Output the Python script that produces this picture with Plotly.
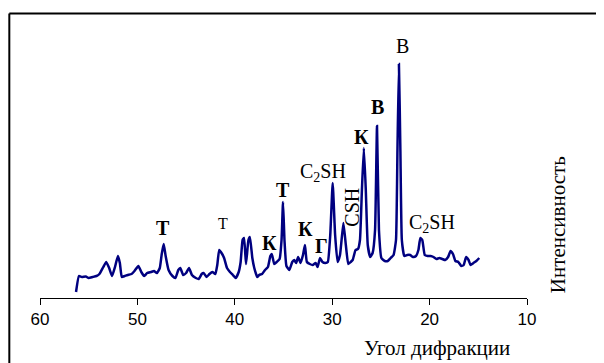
import plotly.graph_objects as go

# Diffraction angle (degrees) and intensity (arbitrary units)
angle = [56.3, 56.0, 55.7, 55.3, 55.0, 54.6, 54.2, 53.9, 53.5, 53.2, 52.9, 52.6, 52.3, 52.0, 51.8,
         51.6, 51.3, 51.0, 50.6, 50.3, 49.9, 49.6, 49.3, 49.0, 48.6, 48.3, 48.0, 47.7, 47.5, 47.3,
         47.1, 46.8, 46.4, 46.1, 45.8, 45.6, 45.3, 45.0, 44.7, 44.4, 44.0, 43.7, 43.4, 43.2, 42.9,
         42.6, 42.3, 42.0, 41.8, 41.6, 41.3, 41.1, 40.8, 40.5, 40.2, 39.9, 39.6, 39.4, 39.2, 39.05,
         38.85, 38.6, 38.45, 38.2, 38.0, 37.7, 37.5, 37.2, 36.9, 36.6, 36.35, 36.2, 35.95, 35.7, 35.4,
         35.2, 35.05, 34.9, 34.7, 34.4, 34.1, 33.9, 33.7, 33.5, 33.25, 33.0, 32.8, 32.6, 32.3, 32.0,
         31.7, 31.5, 31.25, 31.0, 30.7, 30.45, 30.2, 29.95, 29.7, 29.45, 29.2, 28.85, 28.6, 28.35, 28.1,
         27.9, 27.6, 27.35, 27.15, 26.95, 26.75, 26.55, 26.35, 26.1, 25.85, 25.6, 25.4, 25.2, 24.95, 24.6,
         24.3, 24.0, 23.7, 23.45, 23.3, 23.15, 23.0, 22.85, 22.6, 22.3, 22.0, 21.7, 21.4, 21.15, 20.95,
         20.75, 20.5, 20.2, 19.9, 19.6, 19.3, 19.0, 18.7, 18.4, 18.1, 17.85, 17.6, 17.35, 17.05, 16.75,
         16.5, 16.25, 16.0, 15.8, 15.5, 15.2, 14.9]
intensity = [6, 22, 21, 21.5, 20, 21, 22, 24, 31, 36, 30, 22, 31, 42, 35,
             21, 22, 23, 24, 27, 32, 26, 22, 25, 26, 27, 25, 30, 44, 54,
             42, 28, 22, 20, 28, 30, 23, 25, 30, 23, 20, 19, 24, 25, 21,
             24, 26, 24, 33, 48, 44, 40, 30, 26, 23, 20, 26, 36, 58, 60,
             34, 58, 61, 40, 30, 21, 23, 24, 28, 31, 42, 44, 34, 36, 39,
             58, 96, 58, 32, 28, 36, 38, 35, 41, 35, 43, 53, 36, 34, 33,
             35, 31, 40, 36, 35, 36, 63, 115, 63, 36, 43, 75, 53, 34, 36,
             38, 48, 49, 58, 108, 150, 108, 53, 41, 45, 68, 172, 68, 40, 37,
             37, 40, 43, 58, 148, 234, 148, 58, 42, 43, 43, 41, 42, 48, 60,
             58, 43, 42, 42, 41, 39, 40, 39, 38, 41, 47, 44, 37, 36, 32,
             33, 41, 38, 33, 35, 37, 40]

tick_values = [60, 50, 40, 30, 20, 10]
tick_labels = ["60", "50", "40", "30", "20", "10"]

# Peak labels: text, angle, intensity position, rotation, font size
label_text = ["В", "<b>В</b>", "<b>К</b>", "C<sub>2</sub>SH", "CSH", "<b>Т</b>",
              "<b>К</b>", "<b>Г</b>", "<b>К</b>", "Т", "<b>Т</b>", "C<sub>2</sub>SH"]
label_x = [22.8, 25.35, 27.0, 30.9, 28.0, 35.05, 32.74, 31.15, 36.4, 41.2, 47.4, 19.8]
label_y = [252, 191, 161, 126, 91, 108, 69, 52, 55, 75, 70, 75]
label_rot = [0, 0, 0, 0, -90, 0, 0, 0, 0, 0, 0, 0]
label_size = [20, 20, 20, 20, 20, 20, 20, 20, 20, 16, 20, 20]

x_title = "Угол дифракции"
y_title = "Интенсивность"

serif = "Liberation Serif, Times New Roman, serif"

fig = go.Figure()
fig.add_trace(go.Scatter(x=angle, y=intensity, mode="lines",
                         line=dict(color="#000080", width=2.5, shape="spline", smoothing=0.4),
                         hoverinfo="skip"))

for t, x, y, r, s in zip(label_text, label_x, label_y, label_rot, label_size):
    fig.add_annotation(x=x, y=y, xref="x", yref="y", text=t, showarrow=False,
                       textangle=r, font=dict(family=serif, size=s, color="black"),
                       xanchor="center", yanchor="middle")

fig.add_annotation(x=0.815, y=-0.176, xref="paper", yref="paper", text=x_title,
                   showarrow=False, font=dict(family=serif, size=21, color="black"),
                   xanchor="center", yanchor="middle")
fig.add_annotation(x=1.064, y=0.257, xref="paper", yref="paper", text=y_title,
                   showarrow=False, textangle=-90,
                   font=dict(family=serif, size=21, color="black"),
                   xanchor="center", yanchor="middle")

# outer frame (cropped at right/bottom)
fig.add_shape(type="line", xref="paper", yref="paper", x0=-0.063, x1=1.2, y0=1.0018, y1=1.0018,
              line=dict(color="black", width=2))
fig.add_shape(type="line", xref="paper", yref="paper", x0=-0.063, x1=-0.063, y0=1.0018, y1=-0.3,
              line=dict(color="black", width=2))

# page body has an 8px margin, so the figure is 8px smaller and shifted accordingly
fig.update_layout(
    width=596, height=355,
    margin=dict(l=32, r=77, t=6, b=65),
    paper_bgcolor="white", plot_bgcolor="white",
    showlegend=False,
    xaxis=dict(range=[60, 10], tickvals=tick_values, ticktext=tick_labels,
               showline=True, linecolor="black", linewidth=1, ticks="outside",
               ticklen=6, tickcolor="black", showgrid=False, zeroline=False,
               tickfont=dict(family="Liberation Sans, Arial, sans-serif", size=17, color="black")),
    yaxis=dict(range=[0, 284], visible=False, showgrid=False, zeroline=False),
)

fig.write_html("out.html")
